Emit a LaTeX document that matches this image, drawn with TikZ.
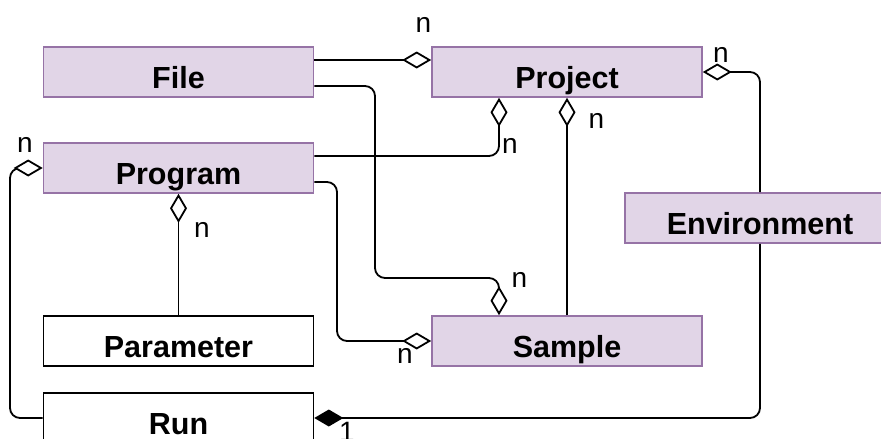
\documentclass[tikz,border=0pt]{standalone}
\usepackage{fontspec}
\setmainfont{Liberation Sans}
\usetikzlibrary{arrows.meta}
\definecolor{boxfill}{HTML}{E1D5E7}
\definecolor{boxline}{HTML}{9673A6}
\begin{document}
\begin{tikzpicture}[x=1pt,y=-1pt,
  entity/.style={draw=black, fill=white, line width=1.6pt,
    minimum width=270pt, minimum height=50pt, inner sep=0pt,
    text height=32pt, text depth=0pt,
    font=\fontsize{30.5}{36}\selectfont\bfseries},
  pentity/.style={entity, draw=boxline, fill=boxfill},
  link/.style={line width=1.8pt, rounded corners=10pt},
  aggr/.style={link, -{Diamond[open, fill=white, length=29pt, width=17pt]}},
  comp/.style={link, -{Diamond[length=29pt, width=17pt]}},
  mult/.style={inner sep=0pt, font=\fontsize{28}{32}\selectfont}
]
\useasboundingbox (0,0) rectangle (881,439);
\clip (0,0) rectangle (881,439);

% entities
\node[pentity] (file)        at (178.5,72)  {File};
\node[pentity] (project)     at (567,72)    {Project};
\node[pentity] (program)     at (178.5,168) {Program};
\node[pentity] (environment) at (760,218)   {Environment};
\node[entity]  (parameter)   at (178.5,341) {Parameter};
\node[pentity] (sample)      at (567,341)   {Sample};
\node[entity]  (run)         at (178.5,418) {Run};

% associations
\draw[aggr] ([yshift=12pt]file.east) -- ([yshift=12pt]project.west);
\draw[aggr] ([yshift=-14pt]file.east) -| (375,278) -| ([xshift=-68pt]sample.north);
\draw[aggr] ([yshift=12pt]program.east) -| ([xshift=-68pt]project.south);
\draw[aggr] (sample.north) -- (project.south);
\draw[aggr] ([yshift=-14pt]program.east) -| (337,341) -- (sample.west);
\draw[aggr] (parameter.north) -- (program.south);
\draw[aggr] (run.west) -| (10,168) -- (program.west);
\draw[aggr] (environment.north) |- (project.east);
\draw[comp] (environment.south) |- (run.east);

% multiplicities
\node[mult] (m1) at (423.5,24.5) {n};
\node[mult] (m2) at (721,54.5)   {n};
\node[mult] (m3) at (510,145.5)  {n};
\node[mult] (m4) at (596.5,121)  {n};
\node[mult] (m5) at (202,229.5)  {n};
\node[mult] (m6) at (25,144.5)   {n};
\node[mult] (m7) at (519.5,279.5) {n};
\node[mult] (m8) at (405,355.5)  {n};
\node[mult] (m9) at (347,432)    {1};
\end{tikzpicture}
\end{document}
